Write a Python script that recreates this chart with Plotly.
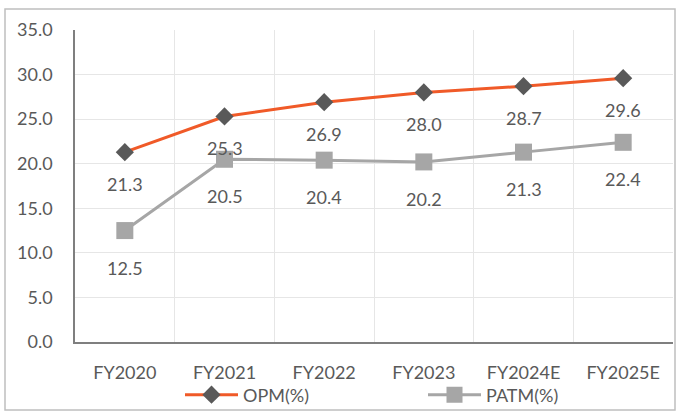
import plotly.graph_objects as go

categories = ["FY2020", "FY2021", "FY2022", "FY2023", "FY2024E", "FY2025E"]
opm = [21.3, 25.3, 26.9, 28.0, 28.7, 29.6]
patm = [12.5, 20.5, 20.4, 20.2, 21.3, 22.4]
y_ticks = [0, 5, 10, 15, 20, 25, 30, 35]

xs = list(range(len(categories)))
FONT = "Lato"
TXT = "#595959"

fig = go.Figure()
fig.add_trace(go.Scatter(
    x=xs, y=opm, name="OPM(%)", mode="lines+markers", legend="legend",
    line=dict(color="#F05A28", width=3),
    marker=dict(symbol="diamond", size=14, color="#595959"),
))
fig.add_trace(go.Scatter(
    x=xs, y=patm, name="PATM(%)", mode="lines+markers", legend="legend2",
    line=dict(color="#A6A6A6", width=3),
    marker=dict(symbol="square", size=17, color="#A6A6A6"),
))

for x, v in zip(xs, opm):
    fig.add_annotation(x=x, y=v, text=f"{v:.1f}", showarrow=False, yshift=-32,
                       font=dict(family=FONT, size=18, color=TXT))
for x, v in zip(xs, patm):
    fig.add_annotation(x=x, y=v, text=f"{v:.1f}", showarrow=False, yshift=-37,
                       font=dict(family=FONT, size=18, color=TXT))

L, R, T, B = 75, 7, 30, 72
W, H = 680, 414
pw, ph = W - L - R, H - T - B
fig.add_shape(type="rect", xref="paper", yref="paper",
              x0=(5 - L) / pw, x1=(675 - L) / pw,
              y0=(H - B - 410) / ph, y1=(H - B - 9) / ph,
              line=dict(color="#BFBFBF", width=1.5), layer="below")

leg_common = dict(orientation="h", yanchor="middle", y=(H - B - 395) / ph,
                  xanchor="left", itemwidth=53,
                  font=dict(family=FONT, size=18, color=TXT),
                  bgcolor="rgba(0,0,0,0)", borderwidth=0)

fig.update_layout(
    width=W, height=H,
    margin=dict(l=L, r=R, t=T, b=B, autoexpand=False),
    paper_bgcolor="white", plot_bgcolor="white",
    font=dict(family=FONT, size=18, color=TXT),
    showlegend=True,
    legend=dict(x=(180 - L) / pw, **leg_common),
    legend2=dict(x=(423 - L) / pw, **leg_common),
    xaxis=dict(range=[-0.5, len(categories) - 0.5], tickvals=xs, ticktext=categories,
               showgrid=False, zeroline=False, showline=True, linecolor="#7F7F7F",
               linewidth=1.5, ticks="", ticklabelstandoff=14,
               tickfont=dict(family=FONT, size=18, color=TXT),
               minor=dict(tickvals=[i + 0.5 for i in xs], showgrid=True,
                          gridcolor="#E6E6E6", gridwidth=1, ticks="")),
    yaxis=dict(range=[0, 35], tickvals=y_ticks, ticktext=[f"{v:.1f}" for v in y_ticks],
               showgrid=True, gridcolor="#E6E6E6", gridwidth=1, zeroline=False,
               showline=True, linecolor="#7F7F7F", linewidth=1.5, ticks="",
               ticklabelstandoff=17,
               tickfont=dict(family=FONT, size=18, color=TXT)),
)

fig.write_html("out.html")
